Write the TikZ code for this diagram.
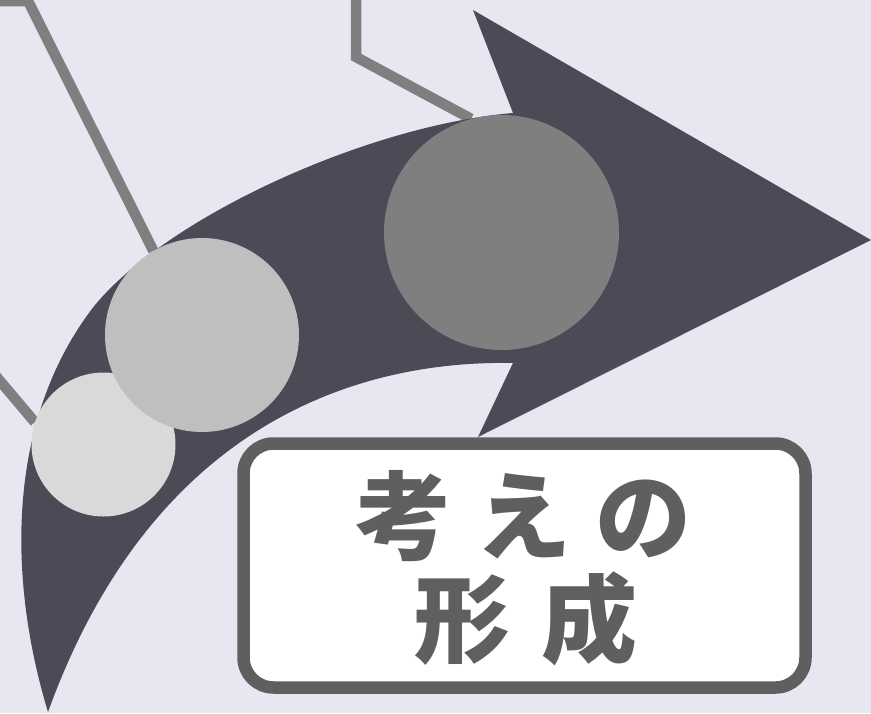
\documentclass[tikz,border=0pt]{standalone}
\usepackage{fontspec}
\newfontfamily\cjk[LetterSpace=25]{Noto Sans CJK JP}
\newfontfamily\cjkwide[LetterSpace=33]{Noto Sans CJK JP}
\definecolor{bgc}{HTML}{E6E7F0}
\definecolor{arrowc}{HTML}{4C4A57}
\definecolor{linec}{HTML}{7F7F7F}
\definecolor{circa}{HTML}{D9D9D9}
\definecolor{circb}{HTML}{BFBFBF}
\definecolor{circc}{HTML}{7F7F7F}
\definecolor{boxc}{HTML}{5F5F5F}
\pgfdeclarelayer{bglayer}
\pgfdeclarelayer{lineslayer}
\pgfdeclarelayer{arrowlayer}
\pgfsetlayers{bglayer,lineslayer,arrowlayer,main}
\tikzset{
  bubble/.style={circle, inner sep=0pt, draw=none},
  leader/.style={draw=linec, line width=10.5pt, line join=miter},
  labeltext/.style={text=boxc, font=\cjk\bfseries\fontsize{96}{110}\selectfont, inner sep=0pt},
  labeltextwide/.style={text=boxc, font=\cjkwide\bfseries\fontsize{96}{110}\selectfont, inner sep=0pt},
}
\begin{document}
\begin{tikzpicture}[x=1pt,y=-1pt]
\begin{pgfonlayer}{bglayer}
\fill[bgc] (0,0) rectangle (871,713);
\end{pgfonlayer}
\useasboundingbox (0,0) rectangle (871,713);

% circles
\node[bubble, fill=circa, minimum size=144pt] (c1) at (103.5,444.5) {};
\node[bubble, fill=circb, minimum size=194pt] (c2) at (202,335) {};
\node[bubble, fill=circc, minimum size=235pt] (c3) at (501.5,232.5) {};

% leader lines (under the arrow)
\coordinate (s1) at (-12,1);
\coordinate (b1) at (28,1);
\coordinate (s2) at (356,-12);
\coordinate (b2) at (356,57);
\coordinate (s3) at (-16,362);
\begin{pgfonlayer}{lineslayer}
\draw[leader] (s1) -- (b1) -- (c2.120);
\draw[leader] (s2) -- (b2) -- (c3.105);
\draw[leader] (s3) -- (c1.162);
\end{pgfonlayer}

% big curved arrow
\begin{pgfonlayer}{arrowlayer}
\fill[arrowc] (48,712) .. controls (8,580) and (5,420) .. (95,305)
  .. controls (170,215) and (370,125) .. (513,113)
  -- (473,10) -- (871,240) -- (478,437) -- (513,363)
  .. controls (350,360) and (150,430) .. (48,712) -- cycle;
\end{pgfonlayer}

% label box
\node[draw=boxc, fill=white, line width=12.5pt, rounded corners=30pt,
      minimum width=562pt, minimum height=244pt, inner sep=0pt] (box) at (524.5,565.5) {};
\node[labeltext] (t1) at (523,516.5) {考えの};
\node[labeltextwide] (t2) at (526,619) {形成};
\end{tikzpicture}
\end{document}
